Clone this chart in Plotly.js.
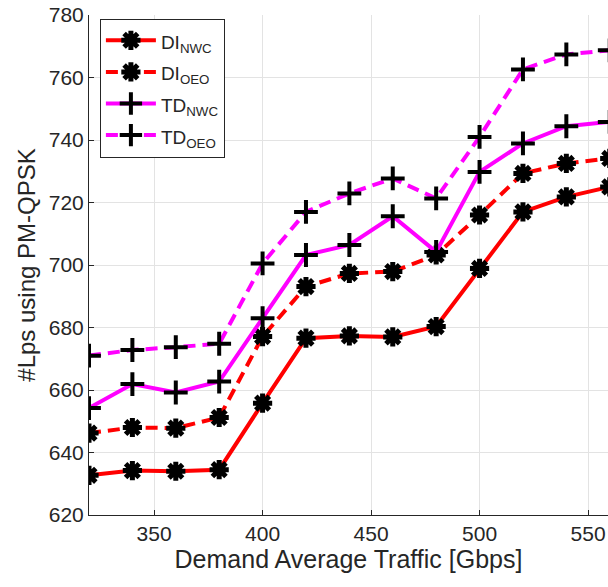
<!DOCTYPE html>
<html><head><meta charset="utf-8">
<script src="https://cdn.plot.ly/plotly-3.0.1.min.js"></script>
<style>html,body{margin:0;padding:0;background:#fff}#chart{width:608px;height:587px}</style>
</head><body><div id="chart"></div>
<script>
const traffic = [320,340,360,380,400,420,440,460,480,500,520,540,560];
const diNWC = [632.7,634.2,634.0,634.5,655.8,676.6,677.3,677.0,680.3,698.9,717.0,721.8,725.0];
const diOEO = [646.2,648.0,647.8,651.2,677.1,693.1,697.3,697.9,703.2,716.0,729.3,732.5,734.1];
const tdNWC = [654.2,661.9,659.2,662.7,683.0,703.2,706.4,715.6,704.2,729.8,738.9,744.4,745.8];
const tdOEO = [671.0,672.8,673.7,674.8,700.5,717.0,722.9,727.7,721.3,741.0,762.6,767.4,768.7];
const names = ['DI<sub>NWC</sub>','DI<sub>OEO</sub>','TD<sub>NWC</sub>','TD<sub>OEO</sub>'];
const yTicks = [620,640,660,680,700,720,740,760,780];
const xTicks = [350,400,450,500,550];

const series = [diNWC, diOEO, tdNWC, tdOEO];
const colors = ['#ff0000','#ff0000','#ff00ff','#ff00ff'];
const dashes = ['solid','12px,7px','solid','12px,7px'];
const symbols = ['asterisk-open','asterisk-open','cross-thin-open','cross-thin-open'];

const data = series.map((s,i)=>({
  x: traffic, y: s, type:'scatter', mode:'lines+markers',
  name: '<span style="font-size:19px">' + names[i] + '</span>',
  line:{color:colors[i], width:4, dash:dashes[i]},
  marker:{symbol:symbols[i], size:i<2?16:17, color:'#000', line:{color:'#000', width:i<2?5:4}}
}));

const font = {family:'"Liberation Sans", Arial, sans-serif', color:'#262626'};
const layout = {
  width:608, height:587,
  margin:{l:89, r:0, t:14.5, b:72},
  paper_bgcolor:'#fff', plot_bgcolor:'#fff',
  font: Object.assign({size:20}, font),
  showlegend:true,
  legend:{x:0.021, y:0.993, xanchor:'left', yanchor:'top', bgcolor:'#fff',
    bordercolor:'#262626', borderwidth:1, itemwidth:50, tracegroupgap:0,
    font:Object.assign({size:22}, font)},
  xaxis:{range:[320,559.2], tickvals:xTicks, ticks:'inside', ticklen:5, tickcolor:'#262626',
    showgrid:true, gridcolor:'#e3e3e3', gridwidth:1, zeroline:false,
    showline:true, linecolor:'#262626', linewidth:1,
    tickfont:Object.assign({size:21}, font),
    title:{text:'Demand Average Traffic [Gbps]', font:Object.assign({size:25}, font), standoff:4}},
  yaxis:{range:[620,780], tickvals:yTicks, ticks:'inside', ticklen:5, tickcolor:'#262626',
    showgrid:true, gridcolor:'#e3e3e3', gridwidth:1, zeroline:false,
    showline:true, linecolor:'#262626', linewidth:1,
    tickfont:Object.assign({size:21}, font),
    title:{text:'#Lps using PM-QPSK', font:Object.assign({size:24}, font), standoff:6}}
};
Plotly.newPlot('chart', data, layout, {displayModeBar:false, staticPlot:true});
</script></body></html>
